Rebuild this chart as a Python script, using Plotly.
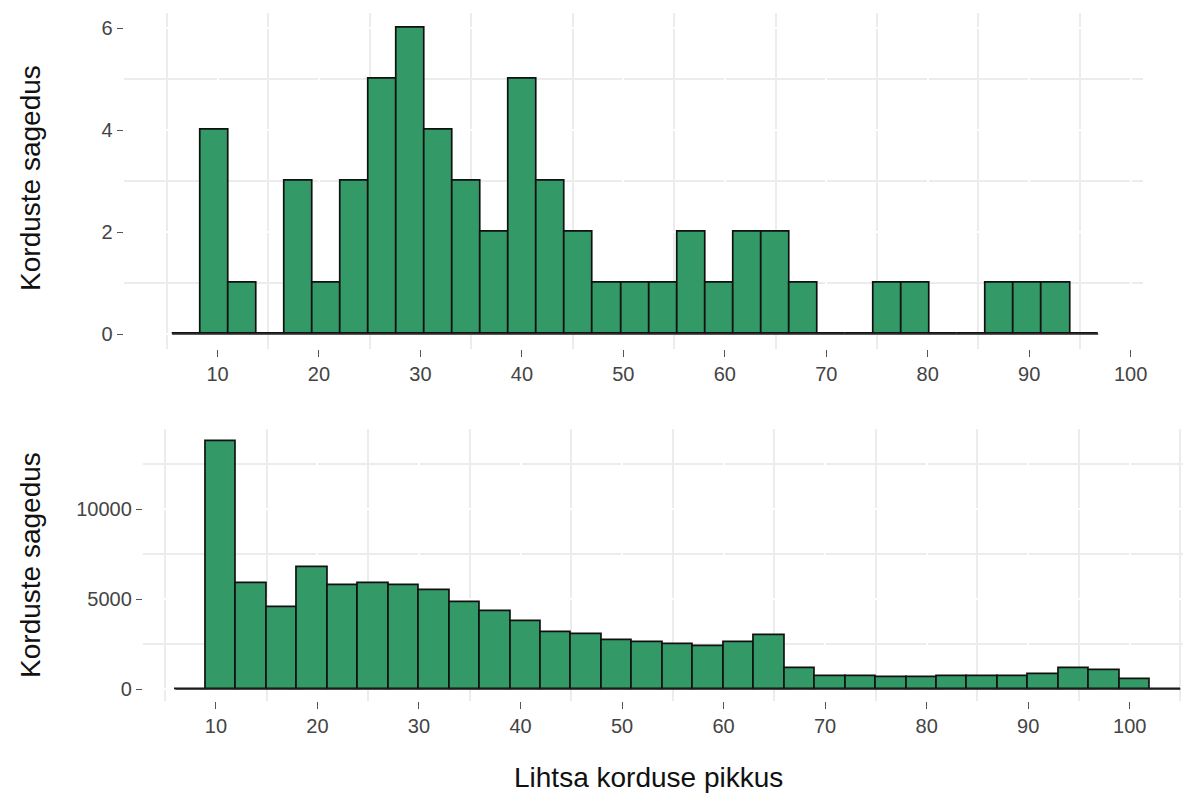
import numpy as np
import plotly.graph_objects as go

# ---- data ----
top_bin_start = 5.52
top_bin_width = 2.766
top_counts = [0, 4, 1, 0, 3, 1, 3, 5, 6, 4, 3, 2, 5, 3, 2, 1, 1, 1, 2, 1, 2, 2, 1,
              0, 0, 1, 1, 0, 0, 1, 1, 1, 0]

bottom_bin_start = 6.0
bottom_bin_width = 3.0
bottom_counts = [0, 13750, 5880, 4530, 6740, 5780, 5860, 5780, 5480, 4810, 4310,
                 3750, 3170, 3060, 2690, 2590, 2480, 2390, 2590, 2960, 1140,
                 730, 730, 640, 640, 730, 730, 730, 840, 1140, 1060, 560, 0]

x_ticks = [10, 20, 30, 40, 50, 60, 70, 80, 90, 100]
top_y_ticks = [0, 2, 4, 6]
bottom_y_ticks = [0, 5000, 10000]

y_title = "Korduste sagedus"
x_title = "Lihtsa korduse pikkus"

# ---- styling ----
FILL = "#339966"
FONT = "Liberation Sans, Arial, sans-serif"
TICK_COLOR = "#444444"
MINOR_GRID = "#ececec"
W, H = 1187, 800


def centers(start, width, n):
    return start + width * (np.arange(n) + 0.5)


fig = go.Figure()

panels = [
    (top_bin_start, top_bin_width, top_counts, "x", "y"),
    (bottom_bin_start, bottom_bin_width, bottom_counts, "x2", "y2"),
]
for start, width, counts, xa, ya in panels:
    n = len(counts)
    xc = centers(start, width, n)
    edges = [start, start + width * n]
    fig.add_trace(go.Scatter(x=edges, y=[0, 0], mode="lines",
                             line=dict(color="#222222", width=1.6),
                             xaxis=xa, yaxis=ya, showlegend=False, hoverinfo="skip"))
    fig.add_trace(go.Bar(x=xc, y=counts, width=width,
                         marker=dict(color=FILL, line=dict(color="#111111", width=1.7)),
                         xaxis=xa, yaxis=ya, showlegend=False))

tickfont = dict(family=FONT, size=20, color=TICK_COLOR)


def xaxis(domain, rng, anchor):
    return dict(domain=domain, range=rng, anchor=anchor,
                tickmode="array", tickvals=x_ticks, ticks="outside", ticklen=7,
                tickwidth=1, tickcolor="#555555", tickfont=tickfont,
                showgrid=True, gridcolor="white", gridwidth=1.5,
                minor=dict(tickmode="linear", tick0=5, dtick=10, showgrid=True,
                           gridcolor=MINOR_GRID, gridwidth=1.6, ticks=""),
                zeroline=False, showline=False)


def yaxis(domain, rng, anchor, tickvals, minor_dtick):
    return dict(domain=domain, range=rng, anchor=anchor,
                tickmode="array", tickvals=tickvals, tickformat="d",
                ticks="outside", ticklen=6, tickwidth=1, tickcolor="#555555",
                tickfont=tickfont,
                showgrid=True, gridcolor="white", gridwidth=1.5,
                minor=dict(tickmode="linear", tick0=minor_dtick / 2, dtick=minor_dtick,
                           showgrid=True, gridcolor=MINOR_GRID, gridwidth=1.6, ticks=""),
                zeroline=False, showline=False)


top_ymax = max(top_counts) * 1.05
bot_ymax = max(bottom_counts) * 1.05
title_font = dict(family=FONT, size=28, color="#111111")

fig.update_layout(
    width=W, height=H,
    margin=dict(l=0, r=0, t=0, b=0),
    paper_bgcolor="white", plot_bgcolor="white",
    bargap=0,
    xaxis=xaxis([124 / W, 1146.7 / W], [0.74, 101.2], "y"),
    yaxis=yaxis([1 - 349.3 / H, 1 - 12.7 / H], [-max(top_counts) * 0.05, top_ymax], "x",
                top_y_ticks, 2),
    xaxis2=xaxis([143.3 / W, 1.0], [2.8, 105.25], "y2"),
    yaxis2=yaxis([1 - 701.4 / H, 1 - 429.3 / H], [-max(bottom_counts) * 0.05, bot_ymax], "x2",
                 bottom_y_ticks, 5000),
    annotations=[
        dict(text=y_title, x=30 / W, y=1 - 178 / H, xref="paper", yref="paper",
             textangle=-90, showarrow=False, font=title_font,
             xanchor="center", yanchor="middle"),
        dict(text=y_title, x=30 / W, y=1 - 565 / H, xref="paper", yref="paper",
             textangle=-90, showarrow=False, font=title_font,
             xanchor="center", yanchor="middle"),
        dict(text=x_title, x=651 / W, y=1 - 777 / H, xref="paper", yref="paper",
             showarrow=False, font=title_font,
             xanchor="center", yanchor="middle"),
    ],
)

fig.write_html("out.html",
               config={"displayModeBar": False},
               post_script="document.body.style.margin='0';document.body.style.overflow='hidden';")
